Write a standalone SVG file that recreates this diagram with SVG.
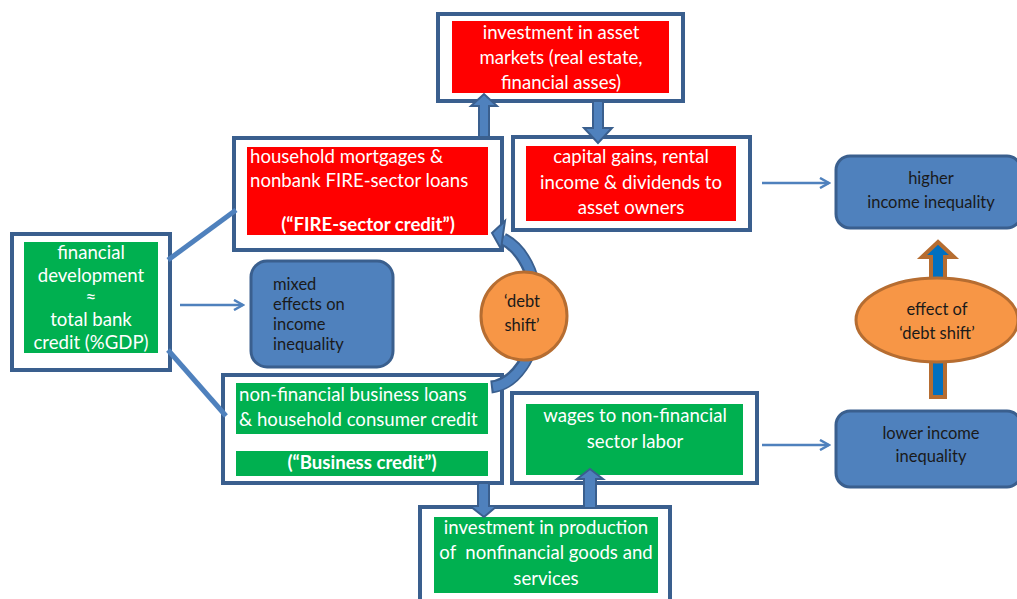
<svg xmlns="http://www.w3.org/2000/svg" width="1017" height="599" viewBox="0 0 1017 599">
<style>
.frame{fill:#fff;stroke:#3A5F8E;stroke-width:4}
.red{fill:#FF0000}
.green{fill:#00B050}
.bbox{fill:#4F81BD;stroke:#3A5F8E;stroke-width:3}
.ell{fill:#F79646;stroke:#B66D31;stroke-width:3}
.blk{fill:#4F81BD;stroke:#3A5F8E;stroke-width:2}
.t{font-family:Lato,"Liberation Sans",sans-serif;font-size:18.6px;fill:#fff}
.c{text-anchor:middle}
.b{font-weight:bold}
.pre{white-space:pre}
.s{font-family:Lato,"Liberation Sans",sans-serif;font-size:16.5px;fill:#1a1a1a}
.thin{fill:none;stroke:#4F81BD;stroke-width:2.5}
.thick{fill:none;stroke:#4F81BD;stroke-width:5}
</style>
<defs>
<marker id="open" viewBox="0 0 12 12" refX="10" refY="6" markerWidth="12" markerHeight="12" markerUnits="userSpaceOnUse" orient="auto">
<path d="M1 1 L10 6 L1 11" fill="none" stroke="#4F81BD" stroke-width="2.5"/>
</marker>
</defs>

<g id="asset-markets">
<rect class="frame" x="438" y="14" width="245" height="87"/>
<rect class="red" x="452" y="21" width="217" height="72"/>
<text class="t c" x="561" y="39">investment in asset</text>
<text class="t c" x="561" y="64">markets (real estate,</text>
<text class="t c" x="561" y="89">financial asses)</text>
</g>

<g id="household">
<rect class="frame" x="234" y="138" width="268" height="112"/>
<rect class="red" x="247" y="147" width="241" height="88"/>
<text class="t" x="250" y="163">household mortgages &amp;</text>
<text class="t" x="250" y="187">nonbank FIRE-sector loans</text>
<text class="t c b" x="368" y="231">(“FIRE-sector credit”)</text>
</g>

<g id="capital-gains">
<rect class="frame" x="513" y="137" width="237" height="93"/>
<rect class="red" x="526" y="146" width="210" height="75"/>
<text class="t c" x="631" y="163">capital gains, rental</text>
<text class="t c" x="631" y="189">income &amp; dividends to</text>
<text class="t c" x="631" y="214">asset owners</text>
</g>

<g id="financial-development">
<rect class="frame" x="12" y="234" width="158" height="136"/>
<rect class="green" x="24" y="242" width="134" height="111"/>
<text class="t c" x="91" y="259">financial</text>
<text class="t c" x="91" y="282">development</text>
<text class="t c" x="91" y="304">≈</text>
<text class="t c" x="91" y="326">total bank</text>
<text class="t c" x="91" y="349">credit (%GDP)</text>
</g>

<g id="mixed-effects">
<rect class="bbox" x="251" y="261" width="142" height="106" rx="16"/>
<text class="s" x="273" y="290">mixed</text>
<text class="s" x="273" y="310">effects on</text>
<text class="s" x="273" y="330">income</text>
<text class="s" x="273" y="350">inequality</text>
</g>

<g id="business-credit">
<rect class="frame" x="223" y="375" width="279" height="108"/>
<rect class="green" x="236" y="383" width="252" height="51"/>
<rect class="green" x="236" y="451" width="252" height="25"/>
<text class="t" x="239" y="401">non-financial business loans</text>
<text class="t" x="239" y="426">&amp; household consumer credit</text>
<text class="t c b" x="362" y="469">(“Business credit”)</text>
</g>

<g id="wages">
<rect class="frame" x="512" y="393" width="245" height="90"/>
<rect class="green" x="526" y="404" width="217" height="71"/>
<text class="t c" x="635" y="422">wages to non-financial</text>
<text class="t c" x="635" y="448">sector labor</text>
</g>

<g id="production">
<rect class="frame" x="420" y="507" width="250" height="100"/>
<rect class="green" x="434" y="517" width="224" height="76"/>
<text class="t c" x="546" y="534">investment in production</text>
<text class="t c pre" x="546" y="559" xml:space="preserve">of  nonfinancial goods and</text>
<text class="t c" x="546" y="585">services</text>
</g>

<g id="higher-inequality">
<rect class="bbox" x="836" y="156" width="185" height="72" rx="14"/>
<text class="s c" x="931" y="184">higher</text>
<text class="s c" x="931" y="208">income inequality</text>
</g>

<g id="lower-inequality">
<rect class="bbox" x="836" y="411" width="185" height="76" rx="14"/>
<text class="s c" x="931" y="439">lower income</text>
<text class="s c" x="931" y="462">inequality</text>
</g>

<g id="connectors">
<line class="thick" x1="168" y1="260" x2="236" y2="210"/>
<line class="thick" x1="168" y1="350" x2="226" y2="416"/>
<line class="thin" x1="180" y1="305" x2="243" y2="305" marker-end="url(#open)"/>
<line class="thin" x1="762" y1="183" x2="829" y2="183" marker-end="url(#open)"/>
<line class="thin" x1="762" y1="445" x2="829" y2="445" marker-end="url(#open)"/>
<path d="M491 387 A 50 76 0 0 0 503 239" fill="none" stroke="#3A5F8E" stroke-width="13"/>
<path d="M493 387 A 50 76 0 0 0 503 239" fill="none" stroke="#4F81BD" stroke-width="9"/>
<polygon class="blk" points="492,233 505,221 501,249"/>
<polygon class="blk" points="479,137 479,106 471,106 484,94 497,106 489,106 489,137"/>
<polygon class="blk" points="593,101 593,128 584,128 598,143 612,128 603,128 603,101"/>
<polygon class="blk" points="478,483 478,506 470,506 484,517 497,506 489,506 489,483"/>
<polygon class="blk" points="584,508 584,479 577,479 590,469 603,479 596,479 596,508"/>
<polygon points="931,397 931,257 922,257 938,242 954,257 945,257 945,397" fill="#0070C0" stroke="#B66D31" stroke-width="4"/>
</g>

<g id="debt-shift">
<ellipse class="ell" cx="524" cy="316" rx="43" ry="44"/>
<text class="s c" x="522" y="307">‘debt</text>
<text class="s c" x="522" y="331">shift’</text>
</g>

<g id="effect-debt-shift">
<ellipse class="ell" cx="937" cy="320" rx="81" ry="42"/>
<text class="s c" x="937" y="315">effect of</text>
<text class="s c" x="937" y="339">‘debt shift’</text>
</g>
</svg>
